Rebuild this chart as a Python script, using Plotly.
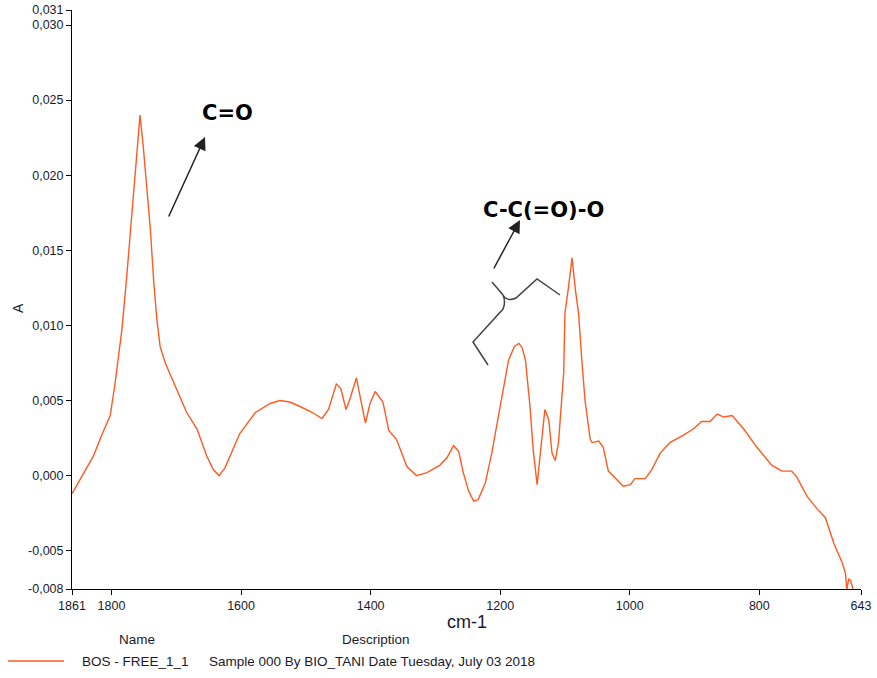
import plotly.graph_objects as go

# ---- data ----
wavenumber = [1861, 1845, 1828, 1815, 1802, 1795, 1784, 1777, 1770, 1765, 1760, 1756, 1751, 1745,
              1740, 1735, 1730, 1725, 1717, 1699, 1684, 1668, 1653, 1643, 1634, 1625, 1617, 1602,
              1578, 1555, 1540, 1525, 1509, 1490, 1475, 1465, 1453, 1446, 1438, 1432, 1422, 1416,
              1408, 1401, 1393, 1381, 1372, 1360, 1344, 1329, 1313, 1293, 1282, 1272, 1264, 1257,
              1249, 1241, 1234, 1223, 1213, 1203, 1195, 1187, 1178, 1171, 1166, 1161, 1154, 1149,
              1143, 1138, 1131, 1125, 1120, 1115, 1110, 1102, 1100, 1095, 1089, 1084, 1079, 1074,
              1069, 1061, 1058, 1048, 1041, 1033, 1020, 1010, 999, 992, 976, 966, 953, 938, 917,
              902, 889, 876, 865, 855, 842, 824, 804, 781, 765, 750, 742, 726, 711, 698, 685, 672,
              667, 665, 662, 659, 655, 648, 643]
absorbance = [-0.0012, 0.0000, 0.0013, 0.0027, 0.0040, 0.0060, 0.0097, 0.0130, 0.0168, 0.0197, 0.0219,
              0.0240, 0.0219, 0.0186, 0.0164, 0.0130, 0.0104, 0.0086, 0.0075, 0.0057, 0.0042, 0.0031,
              0.0013, 0.0004, 0.0000, 0.0005, 0.0013, 0.0028, 0.0042, 0.0048, 0.0050, 0.0049, 0.0046,
              0.0042, 0.0038, 0.0044, 0.0061, 0.0058, 0.0044, 0.0051, 0.0065, 0.0053, 0.0035, 0.0048,
              0.0056, 0.0049, 0.0030, 0.0024, 0.0006, 0.0000, 0.0002, 0.0007, 0.0012, 0.0020, 0.0016,
              0.0002, -0.0010, -0.0017, -0.0016, -0.0005, 0.0015, 0.0039, 0.0059, 0.0077, 0.0086,
              0.0088, 0.0085, 0.0077, 0.0046, 0.0017, -0.0006, 0.0015, 0.0044, 0.0037, 0.0015, 0.0010,
              0.0022, 0.0068, 0.0108, 0.0124, 0.0145, 0.0124, 0.0108, 0.0077, 0.0050, 0.0024, 0.0022,
              0.0023, 0.0019, 0.0003, -0.0003, -0.0007, -0.0006, -0.0002, -0.0002, 0.0004, 0.0015,
              0.0022, 0.0027, 0.0031, 0.0036, 0.0036, 0.0041, 0.0039, 0.0040, 0.0031, 0.0019, 0.0007,
              0.0003, 0.0003, -0.0001, -0.0014, -0.0022, -0.0028, -0.0045, -0.0058, -0.0065, -0.0076,
              -0.0069, -0.0070, -0.0076, -0.0078, -0.0078]

x_tickvals = [1861, 1800, 1600, 1400, 1200, 1000, 800, 643]
x_ticktext = ["1861", "1800", "1600", "1400", "1200", "1000", "800", "643"]
y_tickvals = [-0.00755, -0.005, 0.0, 0.005, 0.010, 0.015, 0.020, 0.025, 0.030, 0.031]
y_ticktext = ["-0,008", "-0,005", "0,000", "0,005", "0,010", "0,015", "0,020", "0,025", "0,030", "0,031"]

series_name = "BOS - FREE_1_1"
series_desc = "Sample 000 By BIO_TANI Date Tuesday, July 03 2018"

# ---- layout geometry ----
W, H = 877, 678
L, R, T, B = 72, 16, 10, 89
X_RANGE = [1861, 643]
Y_RANGE = [-0.00755, 0.031]
LINE_COLOR = "#FF5A22"
TEXT_COLOR = "#1a1a2e"
TICK_FONT = dict(family="Liberation Sans, Arial", size=12.5, color=TEXT_COLOR)


def px2x(px):
    return X_RANGE[0] + (px - L) / (W - L - R) * (X_RANGE[1] - X_RANGE[0])


def py2y(py):
    return Y_RANGE[1] - (py - T) / (H - T - B) * (Y_RANGE[1] - Y_RANGE[0])


def pxp(px):
    return (px - L) / (W - L - R)


def pyp(py):
    return (H - B - py) / (H - T - B)


fig = go.Figure()
fig.add_trace(go.Scatter(x=wavenumber, y=absorbance, mode="lines",
                         line=dict(color=LINE_COLOR, width=1.4), name=series_name,
                         showlegend=False, hoverinfo="x+y"))

ann_font = dict(family="DejaVu Sans, sans-serif", size=21, color="black")
legend_font = dict(family="Liberation Sans, Arial", size=13.5, color=TEXT_COLOR)
annotations = [
    # labels
    dict(x=px2x(227), y=py2y(113), text="<b>C=O</b>", showarrow=False, font=ann_font,
         xref="x", yref="y"),
    dict(x=px2x(543), y=py2y(210), text="<b>C-C(=O)-O</b>", showarrow=False, font=ann_font,
         xref="x", yref="y"),
    # arrows
    dict(x=px2x(205), y=py2y(137), ax=-37, ay=81, text="", showarrow=True, arrowhead=2,
         arrowsize=1.7, arrowwidth=1.5, arrowcolor="#222", xref="x", yref="y"),
    dict(x=px2x(520), y=py2y(220), ax=-27, ay=50, text="", showarrow=True, arrowhead=2,
         arrowsize=1.7, arrowwidth=1.5, arrowcolor="#222", xref="x", yref="y"),
    # axis titles
    dict(x=pxp(467), y=pyp(622), xref="paper", yref="paper", text="cm-1", showarrow=False,
         xanchor="center", yanchor="middle",
         font=dict(family="Liberation Sans, Arial", size=18, color=TEXT_COLOR)),
    dict(x=pxp(18), y=pyp(308), xref="paper", yref="paper", text="A", showarrow=False,
         textangle=-90, xanchor="center", yanchor="middle",
         font=dict(family="Liberation Sans, Arial", size=14, color=TEXT_COLOR)),
    # legend block
    dict(x=pxp(137), y=pyp(639), xref="paper", yref="paper", text="Name", showarrow=False,
         xanchor="center", yanchor="middle", font=legend_font),
    dict(x=pxp(376), y=pyp(639), xref="paper", yref="paper", text="Description", showarrow=False,
         xanchor="center", yanchor="middle", font=legend_font),
    dict(x=pxp(80), y=pyp(661), xref="paper", yref="paper", text=series_name, showarrow=False,
         xanchor="left", yanchor="middle", font=legend_font),
    dict(x=pxp(207), y=pyp(661), xref="paper", yref="paper", text=series_desc, showarrow=False,
         xanchor="left", yanchor="middle", font=legend_font),
]


# brace (grey) near the ester band
def P(px, py):
    return f"{px2x(px)},{py2y(py)}"


brace_path = (f"M {P(488,365)} L {P(473,342)} L {P(503,309)} Q {P(506,302)} {P(503,295)} "
              f"L {P(492,282)} M {P(503,295)} Q {P(507,302)} {P(516,298)} "
              f"L {P(537,279)} L {P(560,295)}")

shapes = [
    dict(type="path", path=brace_path, xref="x", yref="y",
         line=dict(color="#444", width=1.5)),
    dict(type="line", xref="paper", yref="paper", x0=pxp(8), x1=pxp(64), y0=pyp(661), y1=pyp(661),
         line=dict(color=LINE_COLOR, width=1.4)),
]

fig.update_layout(
    width=W, height=H,
    margin=dict(l=L, r=R, t=T, b=B, pad=0),
    paper_bgcolor="white", plot_bgcolor="white",
    showlegend=False,
    annotations=annotations,
    shapes=shapes,
    xaxis=dict(range=X_RANGE, tickvals=x_tickvals, ticktext=x_ticktext, showgrid=False,
               zeroline=False, showline=True, linecolor="black", linewidth=1, automargin=False,
               ticks="outside", ticklen=5, tickcolor="black", tickfont=TICK_FONT),
    yaxis=dict(range=Y_RANGE, tickvals=y_tickvals, ticktext=y_ticktext, showgrid=False,
               zeroline=False, showline=True, linecolor="black", linewidth=1, automargin=False,
               ticks="outside", ticklen=5, tickcolor="black", tickfont=TICK_FONT),
)

# remove the browser's default 8px body margin so the figure fills the window exactly
fig.write_html("out.html",
               config={"displayModeBar": False},
               post_script="document.body.style.margin='0';document.body.style.overflow='hidden';")
